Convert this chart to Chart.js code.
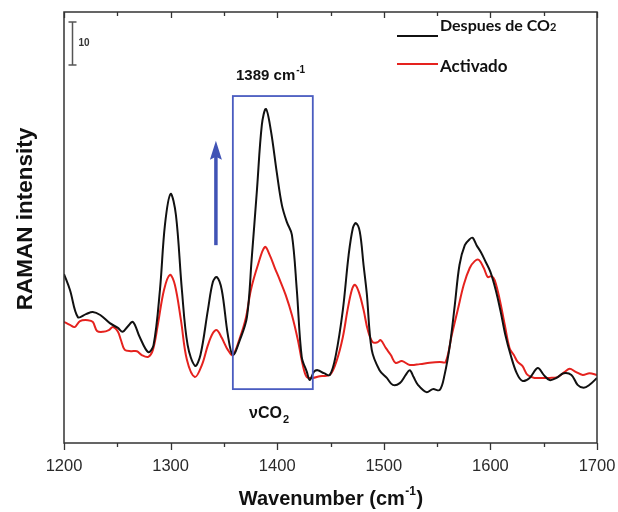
<!DOCTYPE html>
<html>
<head>
<meta charset="utf-8">
<script src="https://cdn.jsdelivr.net/npm/chart.js@4/dist/chart.umd.min.js"></script>
<style>
  html, body { margin: 0; padding: 0; background: #fff; }
  #wrap { width: 618px; height: 512px; position: relative; }
</style>
</head>
<body>
<div id="wrap"><canvas id="chart"></canvas></div>
<script>
// Raman spectra (wavenumber in cm-1, intensity in arbitrary units)
const xTicks = [1200, 1300, 1400, 1500, 1600, 1700];

const afterWn = [1200, 1205.6, 1213, 1220.6, 1227, 1234, 1243, 1250.6, 1255, 1260, 1264.7, 1271, 1279, 1284,
  1290, 1294.7, 1300, 1305, 1310.6, 1316, 1323, 1328, 1335, 1339.7, 1343.4, 1348, 1353.7, 1358.4,
  1365, 1371.6, 1376, 1381, 1385.6, 1389.4, 1394, 1399.7, 1404.4, 1409, 1413.8, 1418.4, 1423, 1427.8,
  1430.6, 1434.4, 1438, 1443.8, 1449.4, 1455, 1461.6, 1467, 1471, 1473.8, 1477.5, 1481, 1484, 1488.7,
  1496, 1502.8, 1508.4, 1515, 1520.6, 1524.4, 1528, 1532, 1540, 1546, 1552.5, 1557, 1562, 1566.6,
  1571, 1576, 1580.6, 1583.4, 1587, 1591, 1595.6, 1600, 1605, 1609.7, 1614, 1619, 1624.7, 1630,
  1636.8, 1644.4, 1650, 1655.6, 1662, 1668.7, 1676, 1681.8, 1687.5, 1693, 1700];
const afterInt = [39.2, 35.5, 29.2, 29.9, 30.4, 29.7, 27.8, 26.7, 25.8, 27.1, 28.1, 24.6, 21.1, 22.7,
  35.5, 50.6, 57.8, 52.9, 35.5, 22.7, 17.9, 20.4, 30.9, 37.4, 38.5, 35.5, 25.1, 20.4,
  23.9, 29.2, 42.5, 58.7, 73.8, 77.5, 72.6, 62.6, 55.2, 51.3, 48.3, 35.5, 20.0, 16.5,
  14.6, 16.5, 16.9, 16.2, 15.8, 20.4, 30.9, 43.6, 49.9, 51.0, 49.0, 41.3, 34.8, 21.6,
  16.9, 15.1, 13.5, 13.9, 15.8, 16.9, 15.3, 13.5, 11.8, 12.5, 12.3, 15.8, 22.7, 32.0,
  41.3, 45.9, 47.3, 47.6, 45.9, 44.3, 42.0, 39.7, 35.5, 30.4, 25.1, 20.4, 16.2, 14.4,
  15.1, 17.4, 15.8, 14.6, 15.1, 16.2, 15.8, 13.5, 12.8, 13.5, 15.1];

const activWn = [1200, 1205.6, 1210, 1215, 1222.5, 1227, 1231, 1236.6, 1242, 1246, 1250.6, 1253.4, 1257,
  1262.8, 1268.4, 1273, 1279, 1283.4, 1288, 1293.8, 1299.4, 1304, 1309.7, 1315.3, 1322.8, 1329.4,
  1335, 1339.7, 1343.4, 1348, 1353.7, 1358.4, 1365, 1370.6, 1375.3, 1381.9, 1388.4, 1393, 1397.8,
  1402.5, 1408, 1413.8, 1419.4, 1424, 1427.8, 1433.4, 1440, 1449.4, 1456, 1461.6, 1466, 1470,
  1472.8, 1476.6, 1481, 1485, 1489.6, 1494.3, 1497, 1502, 1506.6, 1511, 1517, 1524.4, 1533.8,
  1543, 1552.5, 1558, 1563.8, 1569.4, 1575, 1580.6, 1585.3, 1589, 1593.8, 1597.5, 1601, 1604,
  1608.8, 1613.5, 1618, 1622, 1625.6, 1630, 1634.8, 1641.4, 1648, 1655.6, 1663, 1669.7, 1674.4,
  1680, 1686.6, 1693, 1700];
const activInt = [28.1, 27.4, 26.9, 28.3, 28.5, 28.1, 26.0, 25.8, 26.2, 26.9, 25.8, 23.9, 21.6,
  21.3, 21.3, 20.4, 20.0, 21.6, 27.4, 35.5, 39.0, 36.7, 28.5, 19.3, 15.3, 18.1,
  22.7, 25.5, 26.2, 24.4, 21.6, 20.4, 24.4, 29.0, 35.5, 41.3, 45.5, 43.6, 40.6,
  37.8, 34.3, 29.7, 23.9, 18.1, 15.3, 15.1, 15.5, 15.8, 19.3, 24.6, 30.9, 35.5,
  36.7, 35.0, 30.9, 26.2, 23.4, 23.4, 23.9, 22.0, 20.4, 18.6, 19.0, 18.1, 18.3,
  18.6, 18.8, 18.8, 25.1, 30.9, 36.7, 40.6, 42.2, 42.5, 40.6, 38.5, 38.7, 37.8,
  33.2, 27.4, 22.0, 20.4, 18.8, 17.9, 15.8, 15.1, 15.1, 15.1, 15.3, 16.5, 17.2,
  16.5, 15.8, 16.2, 15.8];

const seriesNames = ['Despues de CO', 'Activado'];

// annotation anchors in data units
const boxWn = [1358.4, 1433.4];
const boxInt = [12.5, 80.5];
const arrowWn = 1342.5;
const arrowInt = [45.9, 70.1];
const scaleBarInt = [87.7, 97.7];

const toPts = (xs, ys) => xs.map((v, i) => ({ x: v, y: ys[i] }));

const decor = {
  id: 'decor',
  afterDatasetsDraw(chart) {
    const ctx = chart.ctx;
    const sx = chart.scales.x, sy = chart.scales.y;
    const { left, right, top, bottom } = chart.chartArea;
    ctx.save();

    // frame
    ctx.strokeStyle = '#333';
    ctx.lineWidth = 1.5;
    ctx.strokeRect(left, top, right - left, bottom - top);

    // bottom (outward) and top (inward) ticks
    ctx.lineWidth = 1.3;
    for (let v = 1200; v <= 1700; v += 50) {
      const px = Math.round(sx.getPixelForValue(v)) + 0.5;
      const major = v % 100 === 0;
      ctx.beginPath();
      ctx.moveTo(px, bottom);
      ctx.lineTo(px, bottom + (major ? 7 : 4));
      ctx.moveTo(px, top);
      ctx.lineTo(px, top + (major ? 6 : 4));
      ctx.stroke();
    }

    // highlight box
    ctx.strokeStyle = '#4a5cc0';
    ctx.lineWidth = 1.8;
    const bx0 = sx.getPixelForValue(boxWn[0]), bx1 = sx.getPixelForValue(boxWn[1]);
    const by0 = sy.getPixelForValue(boxInt[1]), by1 = sy.getPixelForValue(boxInt[0]);
    ctx.strokeRect(bx0, by0, bx1 - bx0, by1 - by0);

    // arrow
    const ax = sx.getPixelForValue(arrowWn);
    const ay0 = sy.getPixelForValue(arrowInt[0]), ay1 = sy.getPixelForValue(arrowInt[1]);
    ctx.strokeStyle = '#4053b5';
    ctx.fillStyle = '#4053b5';
    ctx.lineWidth = 3.5;
    ctx.beginPath();
    ctx.moveTo(ax, ay0);
    ctx.lineTo(ax, ay1 + 14);
    ctx.stroke();
    ctx.beginPath();
    ctx.moveTo(ax, ay1);
    ctx.lineTo(ax - 6, ay1 + 19);
    ctx.lineTo(ax, ay1 + 16);
    ctx.lineTo(ax + 6, ay1 + 19);
    ctx.closePath();
    ctx.fill();

    // scale bar
    const sbx = left + 8.5;
    const sb0 = sy.getPixelForValue(scaleBarInt[0]), sb1 = sy.getPixelForValue(scaleBarInt[1]);
    ctx.strokeStyle = '#555';
    ctx.lineWidth = 1.5;
    ctx.beginPath();
    ctx.moveTo(sbx, sb0); ctx.lineTo(sbx, sb1);
    ctx.moveTo(sbx - 4, sb0); ctx.lineTo(sbx + 4, sb0);
    ctx.moveTo(sbx - 4, sb1); ctx.lineTo(sbx + 4, sb1);
    ctx.stroke();
    ctx.fillStyle = '#333';
    ctx.font = 'bold 10px "Liberation Sans", Arial, sans-serif';
    ctx.textBaseline = 'middle';
    ctx.textAlign = 'left';
    ctx.fillText('10', sbx + 6, (sb0 + sb1) / 2);

    // peak label
    ctx.fillStyle = '#111';
    ctx.textBaseline = 'alphabetic';
    ctx.font = 'bold 15px "Liberation Sans", Arial, sans-serif';
    const lx = 236, lb = 80;
    ctx.fillText('1389 cm', lx, lb);
    let w = ctx.measureText('1389 cm').width;
    ctx.font = 'bold 10px "Liberation Sans", Arial, sans-serif';
    ctx.fillText('-1', lx + w + 1, lb - 7);

    // vCO2 label
    ctx.font = 'bold 16px "Liberation Sans", Arial, sans-serif';
    ctx.fillText('\u03BDCO', 249, 418);
    w = ctx.measureText('\u03BDCO').width;
    ctx.font = 'bold 11px "Liberation Sans", Arial, sans-serif';
    ctx.fillText('2', 249 + w + 1, 423);

    // legend
    ctx.lineWidth = 2;
    ctx.strokeStyle = '#111';
    ctx.beginPath(); ctx.moveTo(397, 36); ctx.lineTo(438, 36); ctx.stroke();
    ctx.strokeStyle = '#e5221e';
    ctx.beginPath(); ctx.moveTo(397, 64); ctx.lineTo(438, 64); ctx.stroke();
    ctx.fillStyle = '#111';
    ctx.font = 'bold 16px Lato, "Open Sans", sans-serif';
    ctx.fillText(seriesNames[0], 440, 31);
    w = ctx.measureText(seriesNames[0]).width;
    ctx.font = 'bold 11px Lato, "Open Sans", sans-serif';
    ctx.fillText('2', 440 + w, 31);
    ctx.font = 'bold 17px Lato, "Open Sans", sans-serif';
    ctx.fillText(seriesNames[1], 440, 72);

    // axis titles
    ctx.font = 'bold 20px "Liberation Sans", Arial, sans-serif';
    ctx.textAlign = 'left';
    const t1 = 'Wavenumber (cm';
    const t1w = ctx.measureText(t1).width;
    ctx.font = 'bold 12px "Liberation Sans", Arial, sans-serif';
    const supW = ctx.measureText('-1').width;
    ctx.font = 'bold 20px "Liberation Sans", Arial, sans-serif';
    const closeW = ctx.measureText(')').width;
    const tx = 331 - (t1w + supW + closeW + 1) / 2;
    ctx.fillText(t1, tx, 505);
    ctx.fillText(')', tx + t1w + supW + 1, 505);
    ctx.font = 'bold 12px "Liberation Sans", Arial, sans-serif';
    ctx.fillText('-1', tx + t1w + 0.5, 495);

    ctx.translate(32, 219);
    ctx.rotate(-Math.PI / 2);
    ctx.textAlign = 'center';
    ctx.font = 'bold 22.5px "Liberation Sans", Arial, sans-serif';
    ctx.fillText('RAMAN intensity', 0, 0);

    ctx.restore();
  }
};

new Chart(document.getElementById('chart'), {
  type: 'line',
  data: {
    datasets: [
      {
        label: seriesNames[0] + '2',
        data: toPts(afterWn, afterInt),
        borderColor: '#111',
        borderWidth: 2,
        tension: 0.35,
        pointRadius: 0
      },
      {
        label: seriesNames[1],
        data: toPts(activWn, activInt),
        borderColor: '#e5221e',
        borderWidth: 2,
        tension: 0.35,
        pointRadius: 0
      }
    ]
  },
  options: {
    responsive: true,
    maintainAspectRatio: false,
    animation: false,
    layout: { padding: { top: 12, right: 21, left: 0, bottom: 0 } },
    plugins: { legend: { display: false }, tooltip: { enabled: false } },
    scales: {
      x: {
        type: 'linear',
        min: 1200,
        max: 1700,
        grid: { display: false, drawTicks: false },
        border: { display: false },
        afterBuildTicks: (s) => { s.ticks = xTicks.map(v => ({ value: v })); },
        afterFit: (s) => { s.height = 69; s.paddingLeft = 0; s.paddingRight = 0; },
        ticks: {
          padding: 14,
          color: '#2a2a2a',
          font: { family: '"Liberation Sans", Arial, sans-serif', size: 16.5 },
          maxRotation: 0,
          autoSkip: false,
          callback: (v) => String(v)
        }
      },
      y: {
        min: 0,
        max: 100,
        grid: { display: false, drawTicks: false },
        border: { display: false },
        ticks: { display: false },
        afterFit: (s) => { s.width = 64; }
      }
    }
  },
  plugins: [decor]
});
</script>
</body>
</html>
